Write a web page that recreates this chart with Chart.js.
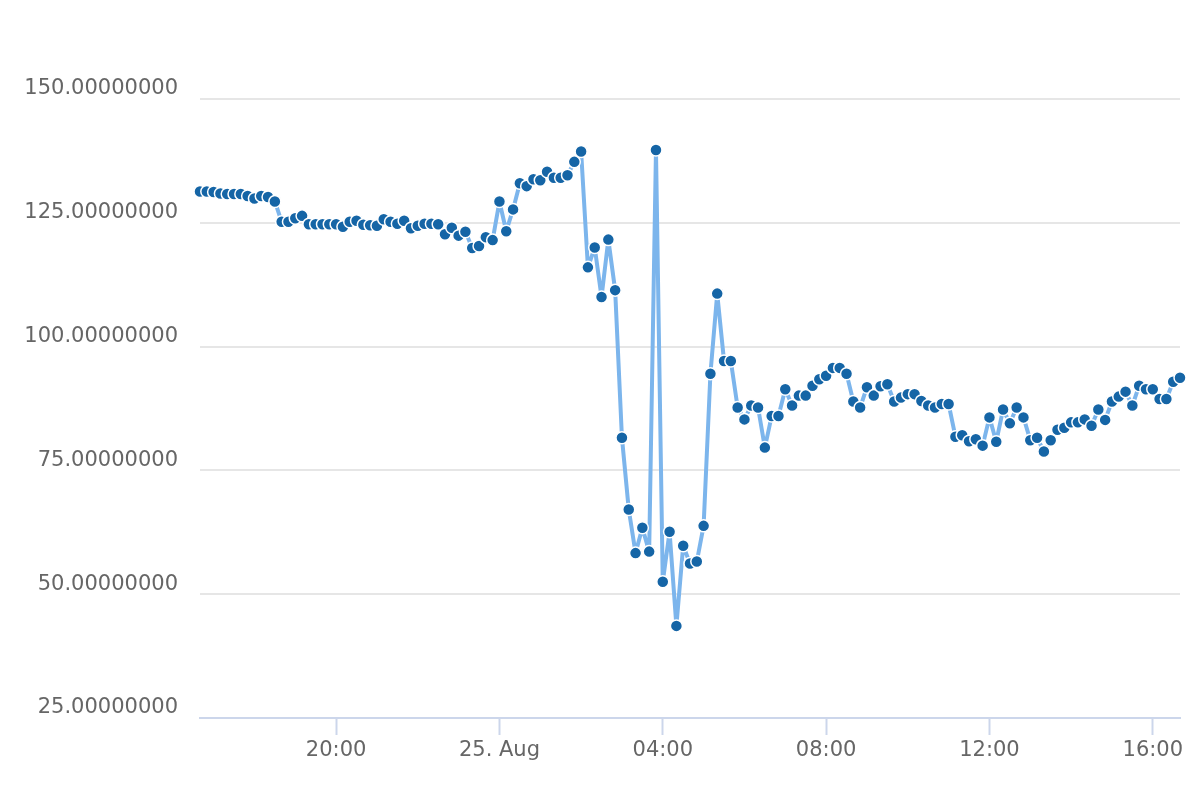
<!DOCTYPE html>
<html>
<head>
<meta charset="utf-8">
<script src="https://cdn.jsdelivr.net/npm/chart.js@4/dist/chart.umd.min.js"></script>
<style>
  html, body { margin: 0; padding: 0; background: #ffffff; }
  #wrap { width: 1200px; height: 800px; position: relative; }
</style>
</head>
<body>
<div id="wrap"><canvas id="c"></canvas></div>
<script>
// Time axis: first sample at 16:40 on 24 Aug, one sample every 10 minutes
const startHour = 16 + 40 / 60;
const stepMinutes = 10;

// Series values
const values = [
  131.3, 131.3, 131.2, 130.9, 130.8, 130.8, 130.8, 130.4, 129.9, 130.4,
  130.2, 129.3, 125.2, 125.2, 125.9, 126.4, 124.7, 124.7, 124.7, 124.7,
  124.7, 124.2, 125.2, 125.4, 124.6, 124.5, 124.4, 125.7, 125.2, 124.8,
  125.4, 123.9, 124.4, 124.8, 124.8, 124.7, 122.7, 124.0, 122.4, 123.2,
  119.9, 120.3, 122.1, 121.5, 129.3, 123.3, 127.7, 133.0, 132.4, 133.8,
  133.6, 135.3, 134.1, 134.1, 134.6, 137.3, 139.4, 116.0, 120.0, 110.0,
  121.6, 111.4, 81.6, 67.1, 58.3, 63.4, 58.6, 139.7, 52.5, 62.6,
  43.6, 59.8, 56.2, 56.6, 63.8, 94.5, 110.7, 97.1, 97.1, 87.7,
  85.3, 88.1, 87.7, 79.6, 86.0, 86.0, 91.4, 88.1, 90.1, 90.1,
  92.1, 93.4, 94.1, 95.7, 95.7, 94.5, 88.9, 87.7, 91.8, 90.1,
  92.0, 92.4, 88.9, 89.7, 90.4, 90.4, 89.0, 88.1, 87.7, 88.4,
  88.4, 81.8, 82.1, 80.9, 81.3, 80.0, 85.7, 80.8, 87.3, 84.5,
  87.7, 85.7, 81.1, 81.6, 78.8, 81.1, 83.2, 83.6, 84.7, 84.7,
  85.3, 84.0, 87.3, 85.2, 88.9, 89.9, 90.9, 88.1, 92.1, 91.4,
  91.4, 89.4, 89.4, 92.9, 93.7
];

// Axis ticks
const xTickHours = [20, 24, 28, 32, 36, 40];
const xTickLabels = ['20:00', '25. Aug', '04:00', '08:00', '12:00', '16:00'];
const yTickValues = [25, 50, 75, 100, 125, 150];

const hours = values.map((v, i) => startHour + i * stepMinutes / 60);
const points = values.map((v, i) => ({ x: hours[i], y: v }));

const FONT = "'DejaVu Sans', sans-serif";

new Chart(document.getElementById('c'), {
  type: 'line',
  data: {
    datasets: [{
      data: points,
      borderColor: '#7cb5ec',
      borderWidth: 4,
      borderJoinStyle: 'round',
      borderCapStyle: 'round',
      tension: 0,
      pointRadius: 6,
      pointHoverRadius: 6,
      pointBackgroundColor: '#1565a6',
      pointBorderColor: '#ffffff',
      pointBorderWidth: 1.5,
      clip: false
    }]
  },
  options: {
    responsive: true,
    maintainAspectRatio: false,
    animation: false,
    events: [],
    layout: { padding: { top: 16, right: 20, bottom: 0, left: 0 } },
    plugins: { legend: { display: false }, tooltip: { enabled: false }, title: { display: false } },
    scales: {
      x: {
        type: 'linear',
        min: hours[0],
        max: hours[hours.length - 1],
        afterBuildTicks: (scale) => { scale.ticks = xTickHours.map(v => ({ value: v })); },
        afterFit: (scale) => { scale.height = 82; },
        grid: {
          drawOnChartArea: false,
          drawTicks: true,
          tickLength: 17,
          tickColor: '#ccd6eb',
          tickWidth: 2
        },
        border: { display: true, color: '#ccd6eb', width: 2 },
        ticks: {
          autoSkip: false,
          maxRotation: 0,
          padding: 3,
          color: '#666666',
          font: { family: FONT, size: 21 },
          callback: (v) => {
            const k = xTickHours.indexOf(v);
            return k >= 0 ? xTickLabels[k] : '';
          }
        }
      },
      y: {
        type: 'linear',
        min: 25,
        max: 163,
        afterBuildTicks: (scale) => { scale.ticks = yTickValues.map(v => ({ value: v })); },
        afterFit: (scale) => { scale.width = 200; },
        grid: {
          color: '#e6e6e6',
          lineWidth: 2,
          drawTicks: false
        },
        border: { display: false },
        ticks: {
          padding: 22,
          labelOffset: -10,
          color: '#666666',
          font: { family: FONT, size: 21 },
          callback: (v) => Number(v).toFixed(8)
        }
      }
    }
  }
});
</script>
</body>
</html>
